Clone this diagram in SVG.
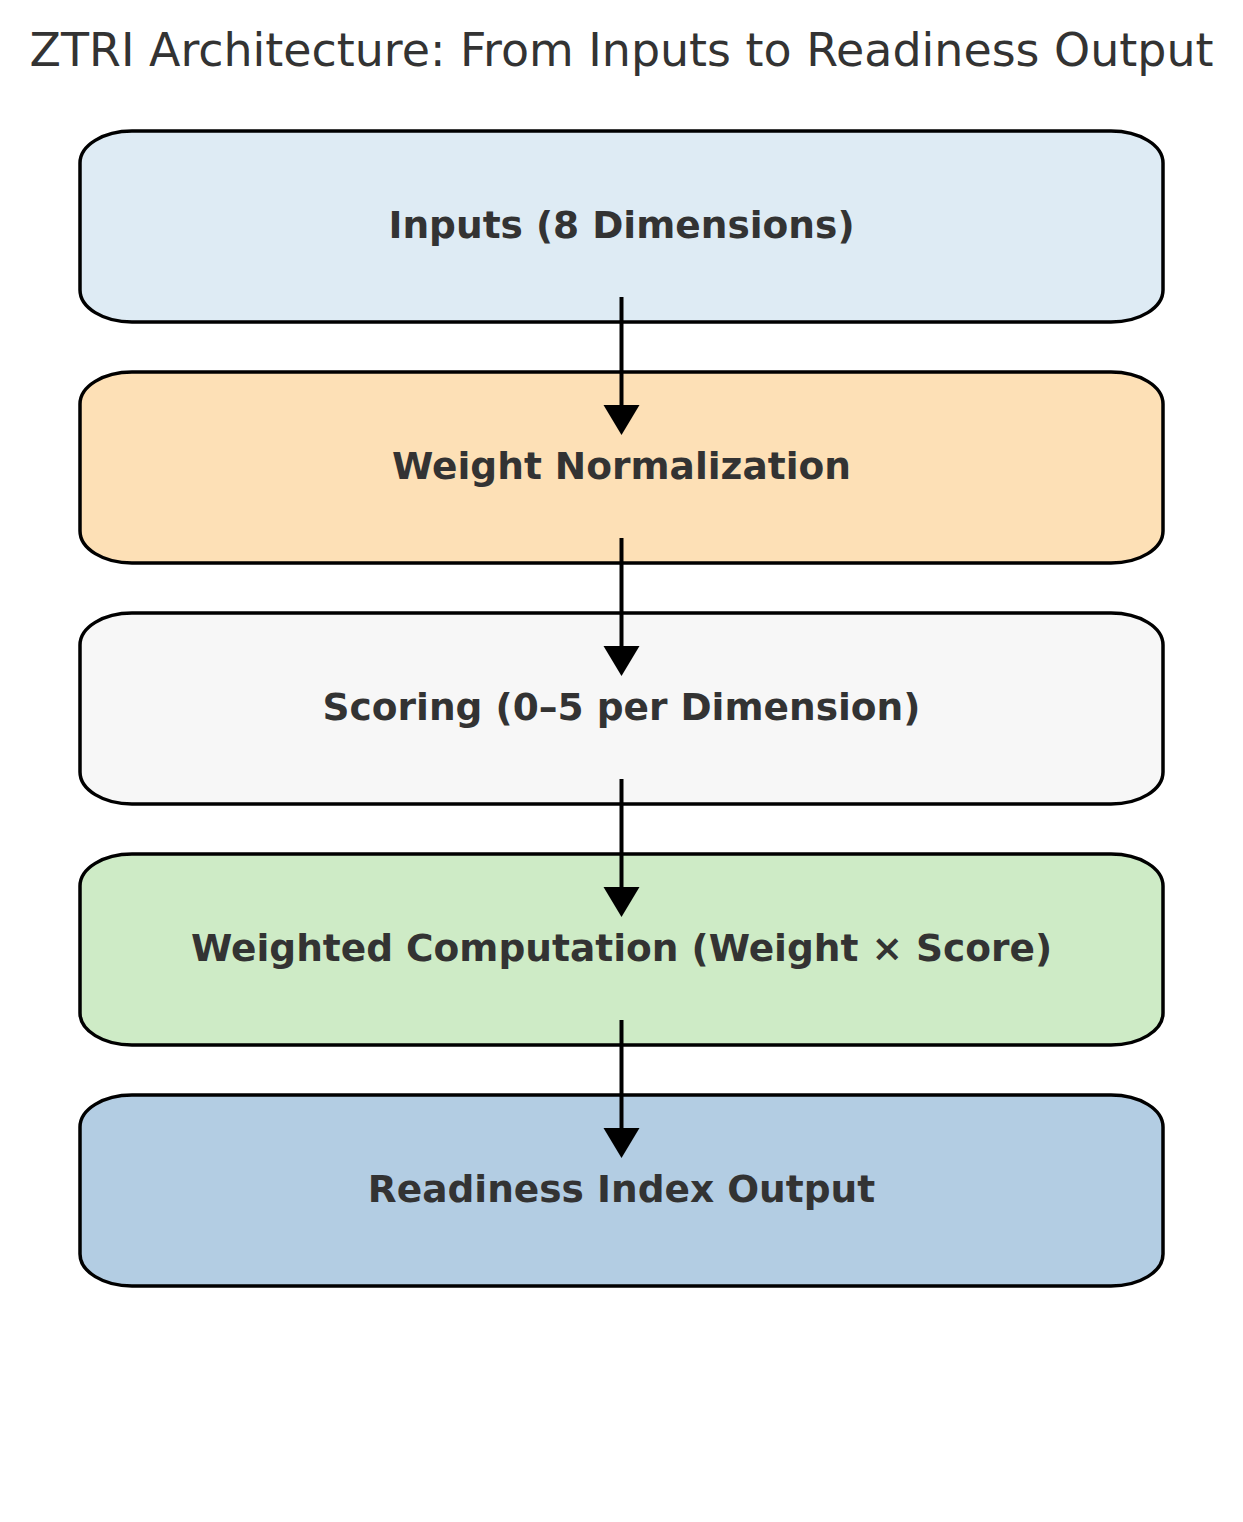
<svg xmlns="http://www.w3.org/2000/svg" width="1243" height="1522" viewBox="0 0 1243 1522">
<style>
.box{stroke:#000;stroke-width:3.5}
.lbl{font-family:"DejaVu Sans",sans-serif;font-weight:bold;font-size:37.5px;fill:#333;text-anchor:middle}
.title{font-family:"DejaVu Sans",sans-serif;font-size:45.9px;fill:#333;text-anchor:middle}
.conn{stroke:#000;stroke-width:4;fill:none}
.head{fill:#000}
</style>
<rect width="1243" height="1522" fill="#fff"/>
<text class="title" x="621.5" y="66">ZTRI Architecture: From Inputs to Readiness Output</text>
<g id="n1"><rect class="box" x="80" y="131" width="1083" height="191" rx="52" ry="32" fill="#deebf4"/><text class="lbl" x="621.5" y="238">Inputs (8 Dimensions)</text></g>
<g id="n2"><rect class="box" x="80" y="372" width="1083" height="191" rx="52" ry="32" fill="#fde0b6"/><text class="lbl" x="621.5" y="479">Weight Normalization</text></g>
<g id="n3"><rect class="box" x="80" y="613" width="1083" height="191" rx="52" ry="32" fill="#f7f7f7"/><text class="lbl" x="621.5" y="720">Scoring (0–5 per Dimension)</text></g>
<g id="n4"><rect class="box" x="80" y="854" width="1083" height="191" rx="52" ry="32" fill="#ceebc6"/><text class="lbl" x="621.5" y="961">Weighted Computation (Weight × Score)</text></g>
<g id="n5"><rect class="box" x="80" y="1095" width="1083" height="191" rx="52" ry="32" fill="#b3cde3"/><text class="lbl" x="621.5" y="1202">Readiness Index Output</text></g>
<g id="connectors">
<line class="conn" x1="621.5" y1="297" x2="621.5" y2="407"/><polygon class="head" points="603.5,405 639.5,405 621.5,435"/>
<line class="conn" x1="621.5" y1="538" x2="621.5" y2="648"/><polygon class="head" points="603.5,646 639.5,646 621.5,676"/>
<line class="conn" x1="621.5" y1="779" x2="621.5" y2="889"/><polygon class="head" points="603.5,887 639.5,887 621.5,917"/>
<line class="conn" x1="621.5" y1="1020" x2="621.5" y2="1130"/><polygon class="head" points="603.5,1128 639.5,1128 621.5,1158"/>
</g>
</svg>
